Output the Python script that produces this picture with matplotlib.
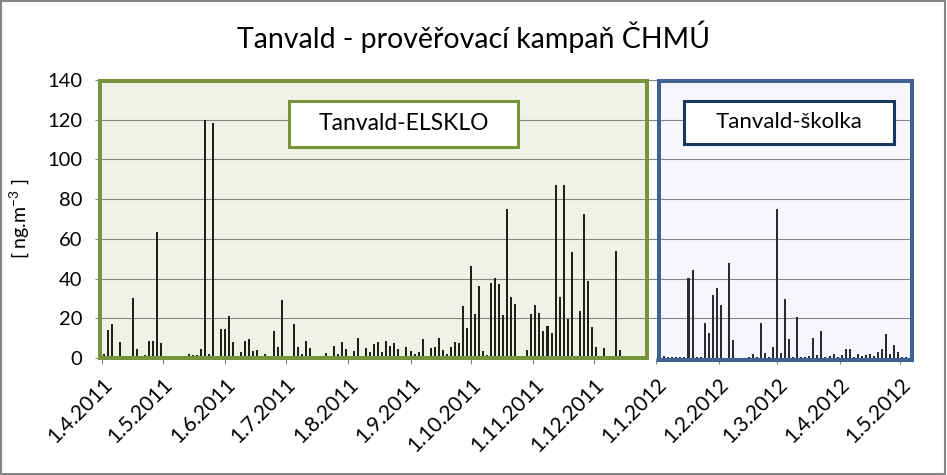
import datetime as dt
import matplotlib
matplotlib.use("Agg")
import matplotlib.pyplot as plt
import matplotlib.dates as mdates
from matplotlib.patches import Rectangle

plt.rcParams['font.family'] = ['Lato', 'DejaVu Sans']

# Tanvald-ELSKLO, 2011 (every second day, gaps = no sample)
elsklo_dates = [
    "2011-04-02", "2011-04-04", "2011-04-06", "2011-04-10", "2011-04-16", "2011-04-18",
    "2011-04-22", "2011-04-24", "2011-04-26", "2011-04-28", "2011-04-30",
    "2011-05-14", "2011-05-16", "2011-05-18", "2011-05-20", "2011-05-22", "2011-05-24",
    "2011-05-26", "2011-05-30",
    "2011-06-01", "2011-06-03", "2011-06-05", "2011-06-09", "2011-06-11", "2011-06-13",
    "2011-06-15", "2011-06-17", "2011-06-21", "2011-06-25", "2011-06-27", "2011-06-29",
    "2011-07-05", "2011-07-07", "2011-07-09", "2011-07-11", "2011-07-13", "2011-07-21",
    "2011-07-25", "2011-07-27", "2011-07-29", "2011-07-31",
    "2011-08-04", "2011-08-06", "2011-08-10", "2011-08-12", "2011-08-14", "2011-08-16",
    "2011-08-18", "2011-08-20", "2011-08-22", "2011-08-24", "2011-08-26", "2011-08-30",
    "2011-09-01", "2011-09-03", "2011-09-05", "2011-09-07", "2011-09-11", "2011-09-13",
    "2011-09-15", "2011-09-17", "2011-09-19", "2011-09-21", "2011-09-23", "2011-09-25",
    "2011-09-27", "2011-09-29",
    "2011-10-01", "2011-10-03", "2011-10-05", "2011-10-07", "2011-10-09", "2011-10-11",
    "2011-10-13", "2011-10-15", "2011-10-17", "2011-10-19", "2011-10-21", "2011-10-23",
    "2011-10-29", "2011-10-31",
    "2011-11-02", "2011-11-04", "2011-11-06", "2011-11-08", "2011-11-10", "2011-11-12",
    "2011-11-14", "2011-11-16", "2011-11-18", "2011-11-20", "2011-11-24", "2011-11-26",
    "2011-11-28", "2011-11-30",
    "2011-12-02", "2011-12-06", "2011-12-12", "2011-12-14",
]
elsklo_values = [
    2, 14, 17, 8, 30, 4.5,
    1.7, 8.7, 8.7, 63.5, 7.7,
    2, 1.7, 1.7, 4.7, 120, 2,
    118.5, 14.7,
    14.7, 21, 8, 2.8, 8.8, 9.8,
    3.3, 4.1, 2, 13.4, 5.7, 29,
    17, 5.7, 2.2, 8.4, 5.2, 2.6,
    6.2, 2.2, 8.3, 4.7,
    3.6, 10.3, 5, 3.2, 7.2, 8.2,
    3.2, 8.7, 6.2, 7.7, 4.7, 5.7,
    3.7, 2.2, 3.2, 9.7, 5.2, 5.7,
    10.2, 4.2, 2.2, 5.7, 8.2, 7.7,
    26.2, 15.2,
    46.2, 22.2, 36.2, 3.7, 1.7, 37.7,
    40.2, 37.2, 21.7, 75, 30.7, 27.2,
    4.2, 22.2,
    26.7, 22.7, 13.7, 16.2, 12.7, 87,
    30.7, 87, 19.7, 53.2, 23.7, 72.7,
    38.7, 15.7,
    5.7, 5.2, 53.7, 4.2,
]

# Tanvald-skolka, 2012
skolka_dates = [
    "2012-01-05", "2012-01-07", "2012-01-09", "2012-01-11", "2012-01-13", "2012-01-15",
    "2012-01-17", "2012-01-19", "2012-01-21", "2012-01-23", "2012-01-25", "2012-01-27",
    "2012-01-29", "2012-01-31",
    "2012-02-02", "2012-02-06", "2012-02-08", "2012-02-16", "2012-02-18", "2012-02-20",
    "2012-02-22", "2012-02-24", "2012-02-26", "2012-02-28",
    "2012-03-01", "2012-03-03", "2012-03-05", "2012-03-07", "2012-03-09", "2012-03-11",
    "2012-03-13", "2012-03-15", "2012-03-17", "2012-03-19", "2012-03-21", "2012-03-23",
    "2012-03-25", "2012-03-27", "2012-03-29", "2012-03-31",
    "2012-04-02", "2012-04-04", "2012-04-06", "2012-04-08", "2012-04-10", "2012-04-12",
    "2012-04-14", "2012-04-16", "2012-04-18", "2012-04-20", "2012-04-22", "2012-04-24",
    "2012-04-26", "2012-04-28", "2012-04-30",
    "2012-05-02", "2012-05-04",
]
skolka_values = [
    1.2, 0.7, 0.7, 0.7, 0.7, 0.7,
    40.2, 44.2, 0.7, 0.7, 17.7, 12.7,
    31.7, 35.2,
    26.7, 47.7, 9.2, 0.7, 2.2, 0.7,
    17.7, 2.7, 0.7, 5.7,
    75, 2.6, 29.5, 9.8, 0.5, 20.7,
    0.5, 0.5, 1, 10.3, 1.5, 13.4,
    0.5, 1, 2, 0.5,
    1.5, 4.6, 4.6, 0.5, 2, 1,
    1.5, 2, 1, 3.1, 4.6, 11.9,
    2, 6.7, 3.1,
    0.5, 0.5,
]

month_ticks = ["2011-04-01", "2011-05-01", "2011-06-01", "2011-07-01", "2011-08-01",
               "2011-09-01", "2011-10-01", "2011-11-01", "2011-12-01", "2012-01-01",
               "2012-02-01", "2012-03-01", "2012-04-01", "2012-05-01"]


def todate(s):
    return dt.datetime.strptime(s, "%Y-%m-%d")


W, H = 947, 475
fig = plt.figure(figsize=(W / 100, H / 100), dpi=100)


def fx(px):
    return px / W


def fy(py):
    return 1 - py / H


ax = fig.add_axes([fx(99.7), fy(358), fx(911.7) - fx(99.7), fy(80) - fy(358)])

start = mdates.date2num(todate("2011-04-01"))
x0, x1 = start - 1.3, start + 401.8
green_end, blue_start = start + 270.4, start + 276.4
ax.set_xlim(x0, x1)
ax.set_ylim(0, 140)

green_face, green_edge = '#eef3e5', '#77933c'
blue_face, blue_edge = '#f7f6fa', '#3f6193'

# campaign backgrounds
ax.add_patch(Rectangle((x0, 0), green_end - x0, 140, facecolor=green_face,
                       edgecolor='none', zorder=0))
ax.add_patch(Rectangle((blue_start, 0), x1 - blue_start, 140, facecolor=blue_face,
                       edgecolor='none', zorder=0))

ax.set_yticks(range(0, 141, 20))
ax.yaxis.grid(True, color='#868686', linewidth=0.8, zorder=0.5)
ax.set_axisbelow(True)

ax.bar([todate(d) for d in elsklo_dates], elsklo_values, width=1.0,
       color='#1e2218', linewidth=0, zorder=2)
ax.bar([todate(d) for d in skolka_dates], skolka_values, width=1.0,
       color='#2b2b2f', linewidth=0, zorder=2)

# campaign borders on top
ax.add_patch(Rectangle((x0, 0), green_end - x0, 139.7, facecolor='none',
                       edgecolor=green_edge, linewidth=2.9, zorder=3, clip_on=False))
ax.add_patch(Rectangle((blue_start, -0.8), x1 - blue_start, 140.5, facecolor='none',
                       edgecolor=blue_edge, linewidth=2.9, zorder=3, clip_on=False))

for s in ax.spines.values():
    s.set_visible(False)

ticks = [todate(d) for d in month_ticks]
ax.set_xticks(ticks)
ax.set_xticklabels([f"{d.day}.{d.month}.{d.year}" for d in ticks], rotation=45,
                   ha='right', rotation_mode='anchor', fontsize=15)
ax.tick_params(axis='x', length=4, color='#868686', pad=8)
ax.tick_params(axis='y', length=3.5, color='#868686', pad=9, labelsize=14.5)

fig.text(fx(20), fy(219), "[ ng.m$^{\\mathregular{-3}}$ ]", rotation=90,
         ha='center', va='center', fontsize=14)

fig.text(0.5, fy(37), "Tanvald - prověřovací kampaň ČHMÚ", ha='center', va='center',
         fontsize=20.5)

# site label boxes
fig.add_artist(Rectangle((fx(289), fy(147.3)), fx(517.7) - fx(289), fy(100.7) - fy(147.3),
                         transform=fig.transFigure, facecolor='white',
                         edgecolor=green_edge, linewidth=2.2, zorder=5))
fig.text(fx(404), fy(124), "Tanvald-ELSKLO", ha='center', va='center',
         fontsize=16.5, zorder=6)
fig.add_artist(Rectangle((fx(684.3), fy(144)), fx(894) - fx(684.3), fy(100.7) - fy(144),
                         transform=fig.transFigure, facecolor='white',
                         edgecolor='#17375e', linewidth=2.2, zorder=5))
fig.text(fx(789), fy(122.5), "Tanvald-školka", ha='center', va='center',
         fontsize=16, zorder=6)

# chart border
fig.add_artist(Rectangle((0.001, 0.002), 0.997, 0.996, transform=fig.transFigure,
                         facecolor='none', edgecolor='#868686', linewidth=1.5))

fig.savefig("out.png", dpi=100)
